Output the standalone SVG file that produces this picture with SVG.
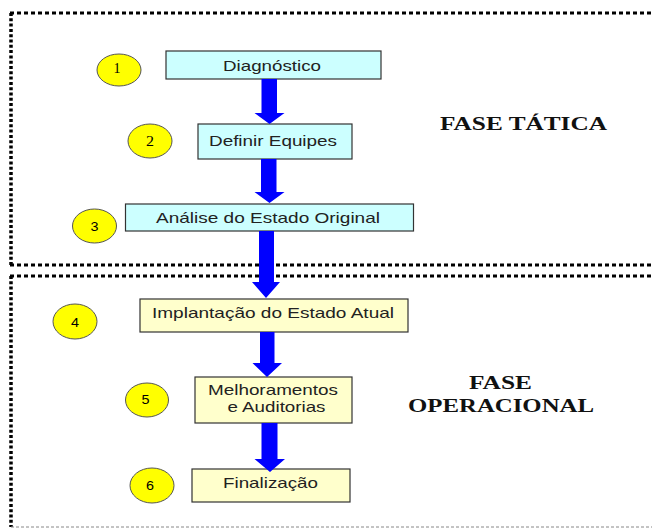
<svg xmlns="http://www.w3.org/2000/svg" width="652" height="528" viewBox="0 0 652 528">
<style>
.bh{fill:none;stroke:#000;stroke-width:3;stroke-dasharray:4 3}
.bv{fill:none;stroke:#000;stroke-width:3.5;stroke-dasharray:3 2.3}
.bb{fill:none;stroke:#888;stroke-width:1;stroke-dasharray:3 2}
.cy{fill:#CCFFFF;stroke:#333;stroke-width:1.2}
.yl{fill:#FFFFCC;stroke:#333;stroke-width:1.2}
.ci{fill:#FFFF00;stroke:#555;stroke-width:1}
.t{font-family:"Liberation Sans",Arial,sans-serif;font-size:15px;fill:#222}
.n{font-family:"Liberation Serif","Times New Roman",serif;font-size:14px;fill:#000}
.ns{font-family:"Liberation Sans",Arial,sans-serif;font-size:13px;fill:#000}
.ph{font-family:"Liberation Serif","Times New Roman",serif;font-size:18px;font-weight:bold;fill:#111}
.ar{fill:#0000FF}
</style>
<g id="borders">
<line class="bh" x1="10" y1="13" x2="652" y2="13"/>
<line class="bv" x1="11" y1="13" x2="11" y2="265"/>
<line class="bh" x1="10" y1="265" x2="652" y2="265"/>
<line class="bh" x1="10" y1="276" x2="652" y2="276"/>
<line class="bv" x1="11" y1="276" x2="11" y2="527"/>
<line class="bb" x1="11" y1="527" x2="652" y2="527"/>
</g>
<g id="labels">
<text class="ph" x="440" y="130" textLength="167" lengthAdjust="spacingAndGlyphs">FASE TÁTICA</text>
<text class="ph" x="469" y="389" textLength="63" lengthAdjust="spacingAndGlyphs">FASE</text>
<text class="ph" x="408" y="412" textLength="186" lengthAdjust="spacingAndGlyphs">OPERACIONAL</text>
</g>
<g id="node1">
<rect class="cy" x="166" y="51" width="215" height="28"/>
<text class="t" x="223" y="71" textLength="98" lengthAdjust="spacingAndGlyphs">Diagnóstico</text>
<ellipse class="ci" cx="119" cy="70" rx="22" ry="16"/>
<text class="n" x="113.5" y="72.5" textLength="7" lengthAdjust="spacingAndGlyphs">1</text>
</g>
<g id="node2">
<rect class="cy" x="198" y="124" width="154" height="35"/>
<text class="t" x="209" y="146" textLength="128" lengthAdjust="spacingAndGlyphs">Definir Equipes</text>
<ellipse class="ci" cx="150" cy="141" rx="22" ry="17"/>
<text class="n" x="146" y="146" textLength="8" lengthAdjust="spacingAndGlyphs">2</text>
</g>
<g id="node3">
<rect class="cy" x="125.5" y="204" width="288" height="27"/>
<text class="t" x="156" y="222.5" textLength="224" lengthAdjust="spacingAndGlyphs">Análise do Estado Original</text>
<ellipse class="ci" cx="94.5" cy="226" rx="22" ry="17"/>
<text class="ns" x="90.5" y="230.5" textLength="8" lengthAdjust="spacingAndGlyphs">3</text>
</g>
<g id="node4">
<rect class="yl" x="140" y="299" width="268" height="33"/>
<text class="t" x="152" y="317.5" textLength="242" lengthAdjust="spacingAndGlyphs">Implantação do Estado Atual</text>
<ellipse class="ci" cx="75" cy="321.5" rx="22" ry="17.5"/>
<text class="ns" x="71" y="326.5" textLength="8" lengthAdjust="spacingAndGlyphs">4</text>
</g>
<g id="node5">
<rect class="yl" x="195" y="377" width="157" height="46"/>
<text class="t" x="208" y="395" textLength="130" lengthAdjust="spacingAndGlyphs">Melhoramentos</text>
<text class="t" x="227.5" y="411.5" textLength="98" lengthAdjust="spacingAndGlyphs">e Auditorias</text>
<ellipse class="ci" cx="147" cy="400" rx="21.5" ry="17"/>
<text class="ns" x="141.5" y="404" textLength="8" lengthAdjust="spacingAndGlyphs">5</text>
</g>
<g id="node6">
<rect class="yl" x="192" y="469" width="158" height="33"/>
<text class="t" x="223" y="487.5" textLength="95" lengthAdjust="spacingAndGlyphs">Finalização</text>
<ellipse class="ci" cx="152" cy="485.5" rx="22" ry="17.5"/>
<text class="ns" x="146" y="490" textLength="8" lengthAdjust="spacingAndGlyphs">6</text>
</g>
<g id="connectors">
<polygon class="ar" points="261.5,79 277,79 277,113 284.5,113 269.5,124 254.5,113 261.5,113"/>
<polygon class="ar" points="261,159 276.5,159 276.5,192 284.5,192 269.5,203 254.5,192 261,192"/>
<polygon class="ar" points="259,231 274,231 274,282 280,282 266,298 252,282 259,282"/>
<polygon class="ar" points="260,332 274.5,332 274.5,363 282,363 267,377 252.5,363 260,363"/>
<polygon class="ar" points="261.5,423 277.5,423 277.5,459 285,459 270,472 254.5,459 261.5,459"/>
</g>
</svg>
